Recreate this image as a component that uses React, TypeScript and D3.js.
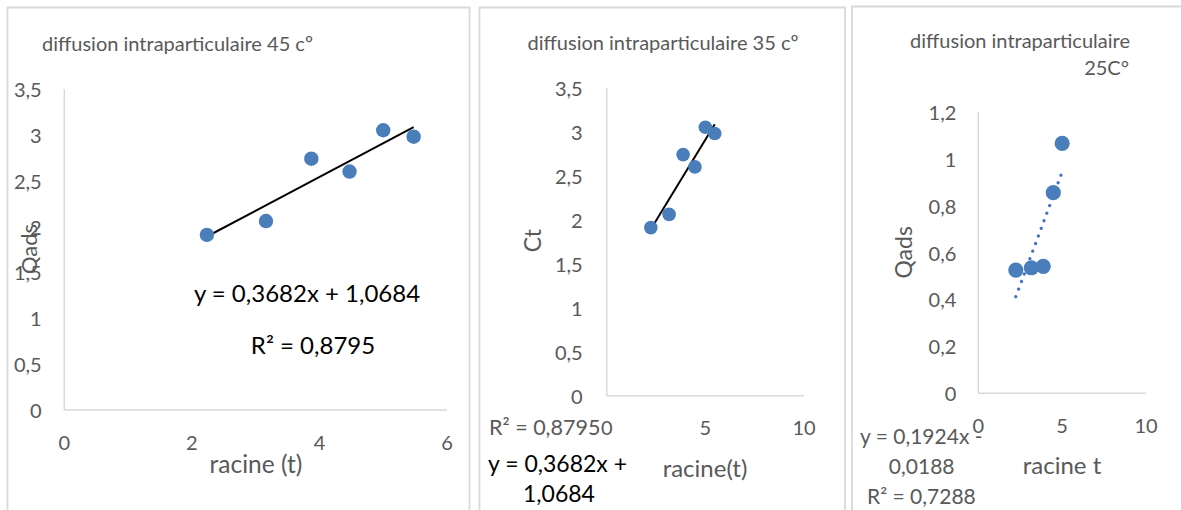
import React from "react";
import * as d3 from "d3";

// racine(t) values shared by the three temperature series
const racine45 = [2.236, 3.162, 3.873, 4.472, 5.0, 5.477];
const qads45 = [1.91, 2.06, 2.74, 2.6, 3.05, 2.98];
const racine35 = [2.236, 3.162, 3.873, 4.472, 5.0, 5.477];
const ct35 = [1.91, 2.06, 2.74, 2.6, 3.05, 2.98];
const racine25 = [2.236, 3.162, 3.873, 4.472, 5.0];
const qads25 = [0.525, 0.535, 0.541, 0.855, 1.065];

// linear fits as printed on the charts
const fit45 = { slope: 0.3682, intercept: 1.0684, r2: "0,8795" };
const fit35 = { slope: 0.3682, intercept: 1.0684, r2: "0,8795" };
const fit25 = { slope: 0.1924, intercept: -0.0188, r2: "0,7288" };

const xTicks45 = [0, 2, 4, 6];
const yTicks45 = [0, 0.5, 1, 1.5, 2, 2.5, 3, 3.5];
const xTicks35 = [0, 5, 10];
const yTicks35 = [0, 0.5, 1, 1.5, 2, 2.5, 3, 3.5];
const xTicks25 = [0, 5, 10];
const yTicks25 = [0, 0.2, 0.4, 0.6, 0.8, 1, 1.2];

const FONT = "Lato, 'Open Sans', sans-serif";
const GREY = "#595959";
const AXIS = "#d9d9d9";
const DOT = "#4a7ebb";

const fmt = (v: number) => String(v).replace(".", ",");

type AxesProps = {
  x: d3.ScaleLinear<number, number>;
  y: d3.ScaleLinear<number, number>;
  xTicks: number[];
  yTicks: number[];
  yLabelGap: number;
  xLabelDy: number;
};

function Axes({ x, y, xTicks, yTicks, yLabelGap, xLabelDy }: AxesProps) {
  const [x0, x1] = x.range();
  const [y0, y1] = y.range();
  return (
    <g>
      <line x1={x0} x2={x0} y1={y0} y2={y1} stroke={AXIS} strokeWidth={1.5} />
      <line x1={x0} x2={x1} y1={y0} y2={y0} stroke={AXIS} strokeWidth={1.5} />
      {yTicks.map((t) => (
        <text
          key={"y" + t}
          x={x0 - yLabelGap}
          y={y(t)}
          textAnchor="end"
          dominantBaseline="central"
          fontSize={20}
          fill={GREY}
        >
          {fmt(t)}
        </text>
      ))}
      {xTicks.map((t) => (
        <text
          key={"x" + t}
          x={x(t)}
          y={y0 + xLabelDy}
          textAnchor="middle"
          dominantBaseline="central"
          fontSize={20}
          fill={GREY}
        >
          {fmt(t)}
        </text>
      ))}
    </g>
  );
}

function Dots({ xs, ys, x, y, r }: { xs: number[]; ys: number[]; x: any; y: any; r: number }) {
  return (
    <g>
      {xs.map((v, i) => (
        <circle key={i} cx={x(v)} cy={y(ys[i])} r={r} fill={DOT} />
      ))}
    </g>
  );
}

function trendPath(xs: number[], fit: { slope: number; intercept: number }, x: any, y: any) {
  const ext = d3.extent(xs) as [number, number];
  const line = d3
    .line<number>()
    .x((v) => x(v))
    .y((v) => y(fit.slope * v + fit.intercept));
  return line(ext) || "";
}

export default function App() {
  // 45 °C panel
  const x1 = d3.scaleLinear().domain([0, 6]).range([64.3, 447]);
  const y1 = d3.scaleLinear().domain([0, 3.5]).range([410, 89]);
  // 35 °C panel
  const x2 = d3.scaleLinear().domain([0, 10]).range([606.7, 804]);
  const y2 = d3.scaleLinear().domain([0, 3.5]).range([395.7, 87.7]);
  // 25 °C panel
  const x3 = d3.scaleLinear().domain([0, 10]).range([978.3, 1146]);
  const y3 = d3.scaleLinear().domain([0, 1.2]).range([393.3, 111.7]);

  return (
    <svg
      width={1181}
      height={510}
      style={{ position: "absolute", left: 0, top: 0, background: "#fff" }}
      fontFamily={FONT}
    >
      <rect width={1181} height={510} fill="#fff" />
      {/* chart frames */}
      <path d="M7.5,515 V7.5 H469.5 V515" fill="none" stroke={AXIS} strokeWidth={1.8} />
      <path d="M479.5,515 V7.5 H845 V515" fill="none" stroke={AXIS} strokeWidth={1.8} />
      <path d="M852,515 V6.5 H1185" fill="none" stroke={AXIS} strokeWidth={1.8} />

      {/* ---------- 45 °C ---------- */}
      <text x={42} y={43} dominantBaseline="central" fontSize={20} fill={GREY}>
        diffusion intraparticulaire 45 cº
      </text>
      <Axes x={x1} y={y1} xTicks={xTicks45} yTicks={yTicks45} yLabelGap={22.6} xLabelDy={32} />
      <path d={trendPath(racine45, fit45, x1, y1)} stroke="#000" strokeWidth={2} fill="none" />
      <Dots xs={racine45} ys={qads45} x={x1} y={y1} r={7.2} />
      <text x={307} y={292} textAnchor="middle" dominantBaseline="central" fontSize={24} fill="#000">
        {`y = ${fmt(fit45.slope)}x + ${fmt(fit45.intercept)}`}
      </text>
      <text x={313} y={344} textAnchor="middle" dominantBaseline="central" fontSize={24} fill="#000">
        {`R² = ${fit45.r2}`}
      </text>
      <text x={256} y={463} textAnchor="middle" dominantBaseline="central" fontSize={24.5} fill={GREY}>
        racine (t)
      </text>
      <text
        transform="translate(28,249) rotate(-90)"
        textAnchor="middle"
        dominantBaseline="central"
        fontSize={22}
        fill={GREY}
      >
        Qads
      </text>

      {/* ---------- 35 °C ---------- */}
      <text x={663} y={42} textAnchor="middle" dominantBaseline="central" fontSize={20} fill={GREY}>
        diffusion intraparticulaire 35 cº
      </text>
      <Axes x={x2} y={y2} xTicks={xTicks35} yTicks={yTicks35} yLabelGap={24} xLabelDy={31} />
      <path d={trendPath(racine35, fit35, x2, y2)} stroke="#000" strokeWidth={2} fill="none" />
      <Dots xs={racine35} ys={ct35} x={x2} y={y2} r={6.8} />
      <text x={489} y={427} dominantBaseline="central" fontSize={21.5} fill={GREY}>
        {`R² = ${fit35.r2}`}
      </text>
      <text x={488} y={463} dominantBaseline="central" fontSize={23} fill="#000">
        {`y = ${fmt(fit35.slope)}x +`}
      </text>
      <text x={523} y={493} dominantBaseline="central" fontSize={23} fill="#000">
        {fmt(fit35.intercept)}
      </text>
      <text x={705} y={467} textAnchor="middle" dominantBaseline="central" fontSize={24} fill={GREY}>
        racine(t)
      </text>
      <text
        transform="translate(531.7,240.7) rotate(-90)"
        textAnchor="middle"
        dominantBaseline="central"
        fontSize={23}
        fill={GREY}
      >
        Ct
      </text>

      {/* ---------- 25 °C ---------- */}
      <text x={1020} y={39.5} textAnchor="middle" dominantBaseline="central" fontSize={20} fill={GREY}>
        diffusion intraparticulaire
      </text>
      <text x={1129} y={66.7} textAnchor="end" dominantBaseline="central" fontSize={20} fill={GREY}>
        25C°
      </text>
      <Axes x={x3} y={y3} xTicks={xTicks25} yTicks={yTicks25} yLabelGap={22} xLabelDy={32} />
      <path
        d={trendPath(racine25, fit25, x3, y3)}
        stroke="#4472c4"
        strokeWidth={3.2}
        strokeLinecap="round"
        strokeDasharray="0.1 8"
        fill="none"
      />
      <Dots xs={racine25} ys={qads25} x={x3} y={y3} r={7.6} />
      <text x={860} y={435} dominantBaseline="central" fontSize={21} fill={GREY}>
        {`y = ${fmt(fit25.slope)}x - `}
      </text>
      <text x={921.7} y={465} textAnchor="middle" dominantBaseline="central" fontSize={21} fill={GREY}>
        {fmt(-fit25.intercept)}
      </text>
      <text x={867} y={495} dominantBaseline="central" fontSize={21} fill={GREY}>
        {`R² = ${fit25.r2}`}
      </text>
      <text x={1062} y={464} textAnchor="middle" dominantBaseline="central" fontSize={24} fill={GREY}>
        racine t
      </text>
      <text
        transform="translate(902.7,252.3) rotate(-90)"
        textAnchor="middle"
        dominantBaseline="central"
        fontSize={23}
        fill={GREY}
      >
        Qads
      </text>
    </svg>
  );
}
